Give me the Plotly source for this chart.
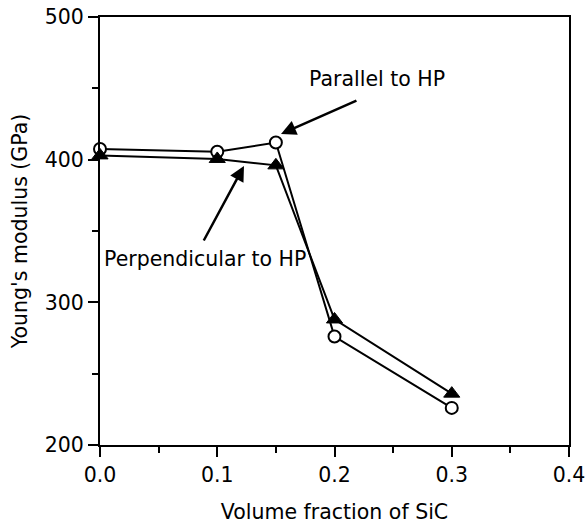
import plotly.graph_objects as go

vol_fraction = [0.0, 0.1, 0.15, 0.2, 0.3]
parallel_hp = [407.5, 405.5, 412, 276, 226]
perpendicular_hp = [403, 400.5, 396, 288, 236]

x_ticks = [0.0, 0.1, 0.2, 0.3, 0.4]
x_ticklabels = ["0.0", "0.1", "0.2", "0.3", "0.4"]
y_ticks = [200, 300, 400, 500]

FONT = "DejaVu Sans"
FS = 20.5

fig = go.Figure()
fig.add_trace(go.Scatter(
    x=vol_fraction, y=parallel_hp, mode="lines+markers",
    line=dict(color="black", width=2),
    marker=dict(symbol="circle", size=12, color="white",
                line=dict(color="black", width=2)),
    cliponaxis=False, showlegend=False, name="Parallel to HP"))
fig.add_trace(go.Scatter(
    x=vol_fraction, y=perpendicular_hp, mode="lines+markers",
    line=dict(color="black", width=2),
    marker=dict(symbol="triangle-up", size=14, color="black",
                line=dict(color="black", width=1)),
    cliponaxis=False, showlegend=False, name="Perpendicular to HP"))

# labels
fig.add_annotation(x=0.2362, y=456.6, xref="x", yref="y", text="Parallel to HP",
                   showarrow=False, font=dict(family=FONT, size=FS, color="black"))
fig.add_annotation(x=0.0896, y=330.4, xref="x", yref="y", text="Perpendicular to HP",
                   showarrow=False, font=dict(family=FONT, size=FS, color="black"))
# arrows
fig.add_annotation(x=0.1544, y=418, ax=0.220, ay=441.8, xref="x", yref="y",
                   axref="x", ayref="y", text="", showarrow=True,
                   arrowhead=2, arrowsize=1.2, arrowwidth=2.5, arrowcolor="black",
                   standoff=0, startstandoff=0)
fig.add_annotation(x=0.1228, y=395.6, ax=0.0878, ay=342.3, xref="x", yref="y",
                   axref="x", ayref="y", text="", showarrow=True,
                   arrowhead=2, arrowsize=1.2, arrowwidth=2.5, arrowcolor="black",
                   standoff=0, startstandoff=0)

fig.update_layout(
    width=587, height=524,
    margin=dict(l=100, r=18, t=17, b=79, autoexpand=False),
    paper_bgcolor="white", plot_bgcolor="white",
    font=dict(family=FONT, size=FS, color="black"),
    xaxis=dict(range=[0, 0.4], tickvals=x_ticks, ticktext=x_ticklabels,
               ticks="outside", ticklen=10, tickwidth=2, tickcolor="black",
               showline=True, linewidth=2, linecolor="black", mirror=True,
               showgrid=False, zeroline=False, automargin=False,
               tickfont=dict(family=FONT, size=FS),
               minor=dict(ticks="outside", ticklen=6, tickwidth=2,
                          tickcolor="black", dtick=0.05, showgrid=False),
               title=dict(text="Volume fraction of SiC", standoff=21,
                          font=dict(family=FONT, size=FS))),
    yaxis=dict(range=[200, 500], tickvals=y_ticks,
               ticks="outside", ticklen=10, tickwidth=2, tickcolor="black",
               showline=True, linewidth=2, linecolor="black", mirror=True,
               showgrid=False, zeroline=False, automargin=False,
               tickfont=dict(family=FONT, size=FS),
               minor=dict(ticks="outside", ticklen=6, tickwidth=2,
                          tickcolor="black", dtick=50, showgrid=False),
               title=dict(text="Young's modulus (GPa)", standoff=12,
                          font=dict(family=FONT, size=FS))),
)

fig.write_html("out.html")
